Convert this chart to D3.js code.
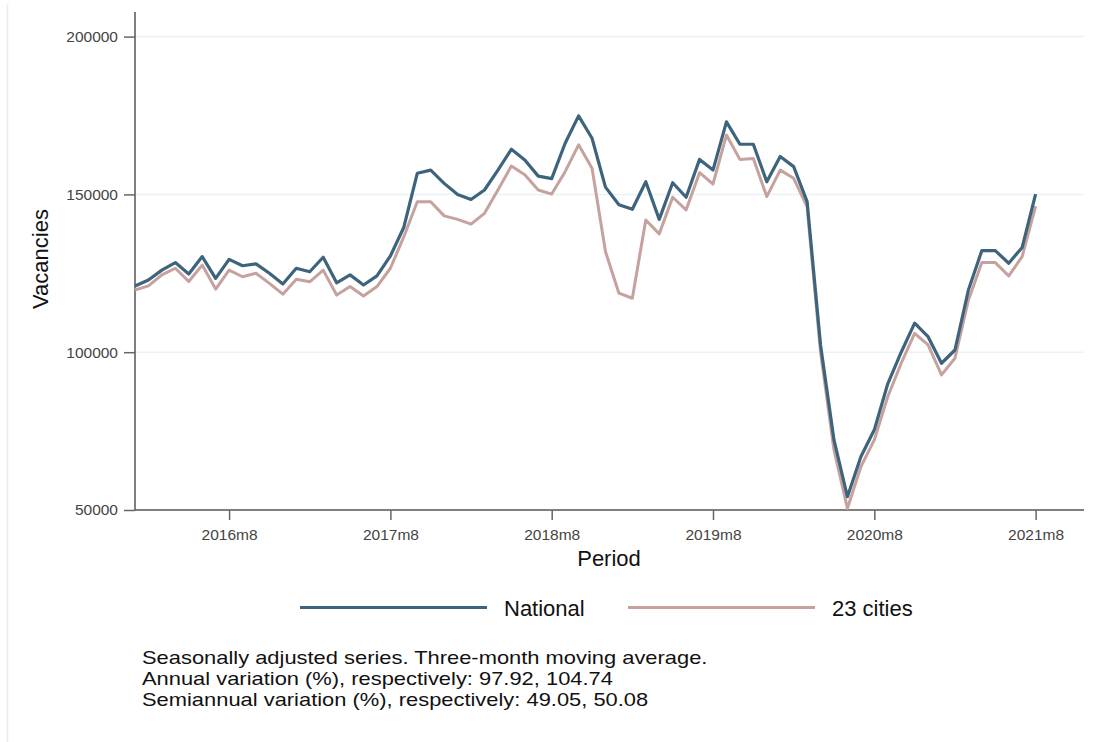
<!DOCTYPE html>
<html>
<head>
<meta charset="utf-8">
<script src="https://cdn.jsdelivr.net/npm/d3@7"></script>
<style>
  body { margin: 0; background: #fff; }
  svg { display: block; font-family: "Liberation Sans", Arial, sans-serif; }
</style>
</head>
<body>
<div id="graph-wrapper"></div>
<script>
// monthly periods, 2016m1 .. 2021m8
const startYear = 2016;
const periods = d3.range(68).map(i => `${startYear + Math.floor(i / 12)}m${(i % 12) + 1}`);

// three-month moving average, seasonally adjusted
const national = [
  121000, 122900, 126000, 128400, 124800, 130300, 123400, 129400, 127400, 128000, 125000, 121600,
  126600, 125500, 130100, 122000, 124500, 121300, 124200, 130500, 139600, 156700, 157700, 153500,
  150000, 148400, 151400, 157700, 164300, 160900, 155800, 155000, 166200, 174900, 167800, 152300,
  146700, 145300, 154000, 142100, 153700, 149100, 161100, 157700, 173000, 165900, 165900, 154000,
  162000, 158800, 147700, 102300, 72200, 54200, 66900, 75400, 90000, 100000, 109200, 104900,
  96500, 100700, 119700, 132200, 132200, 128200, 133200, 150100
];
const cities23 = [
  119700, 121000, 124500, 126600, 122400, 127600, 120000, 126000, 123900, 125000, 121800, 118400,
  123100, 122300, 126000, 118100, 120800, 117800, 120800, 126600, 136600, 147700, 147700, 143200,
  142100, 140600, 144000, 151400, 159000, 156200, 151400, 150100, 157200, 165700, 158300, 131900,
  118700, 117100, 141900, 137500, 149100, 145100, 156900, 153300, 168800, 161100, 161400, 149300,
  157700, 155100, 146100, 100000, 69000, 50500, 63700, 72200, 85900, 96500, 106000, 102300,
  92800, 98100, 116500, 128400, 128400, 124200, 130300, 146300
];

const xTickLabels = ['2016m8', '2017m8', '2018m8', '2019m8', '2020m8', '2021m8'];
const yTicks = [50000, 100000, 150000, 200000];
const seriesNames = ['National', '23 cities'];
const notes = [
  'Seasonally adjusted series. Three-month moving average.',
  'Annual variation (%), respectively: 97.92, 104.74',
  'Semiannual variation (%), respectively: 49.05, 50.08'
];

const width = 1111;
const height = 742;
const marginLeft = 135;
const plotRight = 1084;
const plotTop = 12;
const plotBottom = 510;
const colNational = '#3e647d';
const colCities = '#c6a29e';

const x = d3.scaleLinear().domain([0, 70.6]).range([marginLeft, plotRight]);
const y = d3.scaleLinear().domain([50000, 207800]).range([plotBottom, plotTop]);

const svg = d3.select('#graph-wrapper').append('svg')
    .attr('width', width)
    .attr('height', height);

// faint outer frame on the left
svg.append('line')
    .attr('x1', 7.5).attr('x2', 7.5).attr('y1', 4).attr('y2', height)
    .attr('stroke', '#e4eff3').attr('stroke-width', 1.5);

// gridlines
svg.append('g')
  .selectAll('line')
  .data(yTicks.slice(1))
  .join('line')
    .attr('x1', marginLeft).attr('x2', plotRight)
    .attr('y1', d => y(d)).attr('y2', d => y(d))
    .attr('stroke', '#eaf3f3').attr('stroke-width', 1.5);

// y-axis
const yAxis = d3.axisLeft(y).tickValues(yTicks).tickSize(11).tickPadding(6).tickFormat(d3.format('d'));
const gy = svg.append('g')
    .attr('transform', `translate(${marginLeft},0)`)
    .call(yAxis);
gy.select('.domain').attr('d', `M0,${plotTop}V${plotBottom}`).attr('stroke', '#555').attr('stroke-width', 1.5);
gy.selectAll('.tick line').attr('stroke', '#666').attr('stroke-width', 1.5);
gy.selectAll('.tick text').attr('font-size', 15.5).attr('fill', '#444').attr('font-family', '"Liberation Sans", Arial, sans-serif');

// x-axis
const xAxis = d3.axisBottom(x)
    .tickValues(xTickLabels.map(l => periods.indexOf(l)))
    .tickFormat(i => periods[i])
    .tickSize(10).tickPadding(9);
const gx = svg.append('g')
    .attr('transform', `translate(0,${plotBottom})`)
    .call(xAxis);
gx.select('.domain').attr('d', `M${marginLeft},0H${plotRight}`).attr('stroke', '#555').attr('stroke-width', 1.5);
gx.selectAll('.tick line').attr('stroke', '#666').attr('stroke-width', 1.5);
gx.selectAll('.tick text').attr('font-size', 15.5).attr('fill', '#444').attr('font-family', '"Liberation Sans", Arial, sans-serif');

// axis titles
svg.append('text').text('Vacancies')
    .attr('transform', 'translate(48,259) rotate(-90)')
    .attr('text-anchor', 'middle').attr('font-size', 22).attr('fill', '#111');
svg.append('text').text('Period')
    .attr('x', 609).attr('y', 566)
    .attr('text-anchor', 'middle').attr('font-size', 22).attr('fill', '#111');

// lines
const line = d3.line().x((d, i) => x(i)).y(d => y(d));
svg.append('path').datum(cities23)
    .attr('d', line).attr('fill', 'none')
    .attr('stroke', colCities).attr('stroke-width', 3).attr('stroke-linejoin', 'round');
svg.append('path').datum(national)
    .attr('d', line).attr('fill', 'none')
    .attr('stroke', colNational).attr('stroke-width', 3.2).attr('stroke-linejoin', 'round');

// legend
const legend = svg.append('g').attr('id', 'legend');
const legendX = [300, 628];
[colNational, colCities].forEach((c, i) => {
  legend.append('line')
      .attr('x1', legendX[i]).attr('x2', legendX[i] + 187)
      .attr('y1', 607.5).attr('y2', 607.5)
      .attr('stroke', c).attr('stroke-width', 3.2);
  legend.append('text').text(seriesNames[i])
      .attr('x', legendX[i] + 204).attr('y', 615.5)
      .attr('font-size', 22).attr('fill', '#111');
});

// notes: slightly smaller font stretched sideways so the tight lines don't collide
svg.append('g')
    .attr('transform', 'translate(142,0) scale(1.19,1)')
  .selectAll('text')
  .data(notes)
  .join('text')
    .attr('x', 0)
    .attr('y', (d, i) => 664 + i * 21.2)
    .attr('font-size', 18.4).attr('fill', '#111')
    .text(d => d);
</script>
</body>
</html>
